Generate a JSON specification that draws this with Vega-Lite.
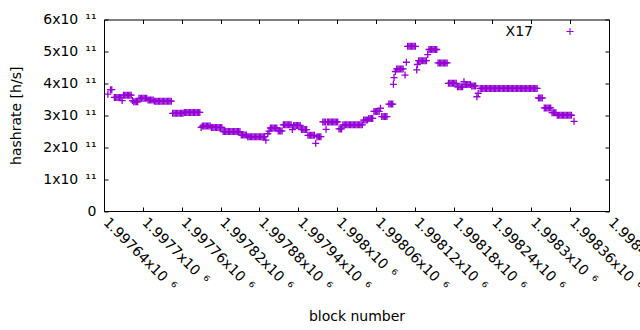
{
  "$schema": "https://vega.github.io/schema/vega-lite/v6.json",
  "autosize": {"type": "none"},
  "width": 505,
  "height": 191.5,
  "padding": {"left": 104, "top": 19.5, "right": 31, "bottom": 119},
  "background": "white",
  "config": {
    "font": "DejaVu Sans",
    "view": {"stroke": "#000000", "strokeWidth": 1},
    "axis": {"labelFontSize": 14, "titleFontSize": 14, "labelColor": "#000", "titleColor": "#000", "titleFontWeight": "normal", "grid": false, "domain": false, "tickColor": "#000", "tickWidth": 1},
    "legend": {"labelFontSize": 14, "labelColor": "#000"}
  },
  "data": {"values": [
    {"block":1997646,"hashrate":3.66e11},{"block":1997650,"hashrate":3.80e11},{"block":1997652,"hashrate":3.80e11},
    {"block":1997656,"hashrate":3.56e11},{"block":1997658,"hashrate":3.56e11},{"block":1997660,"hashrate":3.56e11},{"block":1997662,"hashrate":3.56e11},{"block":1997664,"hashrate":3.56e11},{"block":1997666,"hashrate":3.56e11},{"block":1997668,"hashrate":3.46e11},
    {"block":1997670,"hashrate":3.63e11},{"block":1997672,"hashrate":3.63e11},{"block":1997674,"hashrate":3.63e11},{"block":1997676,"hashrate":3.63e11},{"block":1997678,"hashrate":3.63e11},{"block":1997680,"hashrate":3.63e11},{"block":1997682,"hashrate":3.63e11},
    {"block":1997684,"hashrate":3.46e11},{"block":1997686,"hashrate":3.42e11},{"block":1997688,"hashrate":3.42e11},{"block":1997690,"hashrate":3.42e11},{"block":1997692,"hashrate":3.42e11},
    {"block":1997694,"hashrate":3.53e11},{"block":1997696,"hashrate":3.53e11},{"block":1997698,"hashrate":3.53e11},{"block":1997700,"hashrate":3.53e11},{"block":1997702,"hashrate":3.53e11},{"block":1997704,"hashrate":3.53e11},{"block":1997706,"hashrate":3.53e11},
    {"block":1997708,"hashrate":3.48e11},{"block":1997710,"hashrate":3.48e11},{"block":1997712,"hashrate":3.48e11},{"block":1997714,"hashrate":3.48e11},{"block":1997716,"hashrate":3.48e11},
    {"block":1997718,"hashrate":3.44e11},{"block":1997720,"hashrate":3.44e11},{"block":1997722,"hashrate":3.44e11},{"block":1997724,"hashrate":3.44e11},{"block":1997726,"hashrate":3.44e11},{"block":1997728,"hashrate":3.44e11},{"block":1997730,"hashrate":3.44e11},{"block":1997732,"hashrate":3.44e11},{"block":1997734,"hashrate":3.44e11},{"block":1997736,"hashrate":3.44e11},{"block":1997738,"hashrate":3.44e11},{"block":1997740,"hashrate":3.44e11},{"block":1997742,"hashrate":3.44e11},{"block":1997744,"hashrate":3.44e11},
    {"block":1997746,"hashrate":3.06e11},{"block":1997748,"hashrate":3.06e11},{"block":1997750,"hashrate":3.06e11},{"block":1997752,"hashrate":3.06e11},{"block":1997754,"hashrate":3.06e11},{"block":1997756,"hashrate":3.06e11},{"block":1997758,"hashrate":3.06e11},{"block":1997760,"hashrate":3.06e11},{"block":1997762,"hashrate":3.06e11},
    {"block":1997764,"hashrate":3.09e11},{"block":1997766,"hashrate":3.09e11},{"block":1997768,"hashrate":3.09e11},{"block":1997770,"hashrate":3.09e11},{"block":1997772,"hashrate":3.09e11},{"block":1997774,"hashrate":3.09e11},{"block":1997776,"hashrate":3.09e11},{"block":1997778,"hashrate":3.09e11},{"block":1997780,"hashrate":3.09e11},{"block":1997782,"hashrate":3.09e11},{"block":1997784,"hashrate":3.09e11},{"block":1997786,"hashrate":3.09e11},{"block":1997788,"hashrate":3.09e11},
    {"block":1997790,"hashrate":2.62e11},{"block":1997792,"hashrate":2.66e11},{"block":1997794,"hashrate":2.66e11},{"block":1997796,"hashrate":2.66e11},{"block":1997798,"hashrate":2.66e11},{"block":1997800,"hashrate":2.66e11},{"block":1997802,"hashrate":2.66e11},{"block":1997804,"hashrate":2.66e11},
    {"block":1997806,"hashrate":2.62e11},{"block":1997808,"hashrate":2.62e11},{"block":1997810,"hashrate":2.62e11},{"block":1997812,"hashrate":2.62e11},{"block":1997814,"hashrate":2.62e11},{"block":1997816,"hashrate":2.62e11},{"block":1997818,"hashrate":2.62e11},{"block":1997820,"hashrate":2.62e11},{"block":1997822,"hashrate":2.62e11},
    {"block":1997824,"hashrate":2.49e11},{"block":1997826,"hashrate":2.49e11},{"block":1997828,"hashrate":2.49e11},{"block":1997830,"hashrate":2.49e11},{"block":1997832,"hashrate":2.49e11},{"block":1997834,"hashrate":2.49e11},{"block":1997836,"hashrate":2.49e11},{"block":1997838,"hashrate":2.49e11},{"block":1997840,"hashrate":2.49e11},{"block":1997842,"hashrate":2.49e11},{"block":1997844,"hashrate":2.49e11},{"block":1997846,"hashrate":2.49e11},{"block":1997848,"hashrate":2.49e11},{"block":1997850,"hashrate":2.49e11},
    {"block":1997852,"hashrate":2.38e11},{"block":1997854,"hashrate":2.38e11},{"block":1997856,"hashrate":2.38e11},{"block":1997858,"hashrate":2.38e11},{"block":1997860,"hashrate":2.38e11},
    {"block":1997862,"hashrate":2.33e11},{"block":1997864,"hashrate":2.33e11},{"block":1997866,"hashrate":2.33e11},{"block":1997868,"hashrate":2.33e11},{"block":1997870,"hashrate":2.33e11},{"block":1997872,"hashrate":2.33e11},{"block":1997874,"hashrate":2.33e11},{"block":1997876,"hashrate":2.33e11},{"block":1997878,"hashrate":2.33e11},{"block":1997880,"hashrate":2.33e11},{"block":1997882,"hashrate":2.33e11},{"block":1997884,"hashrate":2.33e11},{"block":1997886,"hashrate":2.33e11},{"block":1997888,"hashrate":2.33e11},
    {"block":1997890,"hashrate":2.22e11},{"block":1997893,"hashrate":2.42e11},{"block":1997895,"hashrate":2.50e11},
    {"block":1997897,"hashrate":2.60e11},{"block":1997899,"hashrate":2.60e11},{"block":1997901,"hashrate":2.60e11},{"block":1997903,"hashrate":2.60e11},{"block":1997905,"hashrate":2.60e11},{"block":1997907,"hashrate":2.60e11},
    {"block":1997909,"hashrate":2.51e11},{"block":1997911,"hashrate":2.51e11},{"block":1997913,"hashrate":2.51e11},{"block":1997915,"hashrate":2.51e11},
    {"block":1997917,"hashrate":2.70e11},{"block":1997919,"hashrate":2.70e11},{"block":1997921,"hashrate":2.70e11},{"block":1997923,"hashrate":2.70e11},{"block":1997925,"hashrate":2.70e11},{"block":1997927,"hashrate":2.70e11},{"block":1997929,"hashrate":2.70e11},
    {"block":1997931,"hashrate":2.55e11},
    {"block":1997933,"hashrate":2.68e11},{"block":1997935,"hashrate":2.68e11},{"block":1997937,"hashrate":2.68e11},{"block":1997939,"hashrate":2.68e11},{"block":1997941,"hashrate":2.68e11},{"block":1997943,"hashrate":2.68e11},
    {"block":1997945,"hashrate":2.55e11},{"block":1997947,"hashrate":2.55e11},{"block":1997949,"hashrate":2.55e11},{"block":1997951,"hashrate":2.55e11},{"block":1997953,"hashrate":2.55e11},
    {"block":1997955,"hashrate":2.37e11},{"block":1997957,"hashrate":2.37e11},{"block":1997959,"hashrate":2.37e11},{"block":1997961,"hashrate":2.37e11},{"block":1997963,"hashrate":2.37e11},{"block":1997965,"hashrate":2.37e11},
    {"block":1997967,"hashrate":2.12e11},
    {"block":1997969,"hashrate":2.33e11},{"block":1997971,"hashrate":2.33e11},{"block":1997973,"hashrate":2.33e11},{"block":1997975,"hashrate":2.33e11},
    {"block":1997978,"hashrate":2.79e11},{"block":1997980,"hashrate":2.79e11},{"block":1997982,"hashrate":2.79e11},{"block":1997983,"hashrate":2.56e11},{"block":1997985,"hashrate":2.79e11},{"block":1997987,"hashrate":2.79e11},{"block":1997989,"hashrate":2.79e11},{"block":1997991,"hashrate":2.79e11},{"block":1997993,"hashrate":2.79e11},{"block":1997995,"hashrate":2.79e11},{"block":1997997,"hashrate":2.79e11},{"block":1997999,"hashrate":2.79e11},{"block":1998001,"hashrate":2.79e11},
    {"block":1998003,"hashrate":2.57e11},{"block":1998005,"hashrate":2.57e11},{"block":1998007,"hashrate":2.57e11},
    {"block":1998009,"hashrate":2.70e11},{"block":1998011,"hashrate":2.70e11},{"block":1998013,"hashrate":2.70e11},{"block":1998015,"hashrate":2.70e11},{"block":1998017,"hashrate":2.70e11},{"block":1998019,"hashrate":2.70e11},{"block":1998021,"hashrate":2.70e11},{"block":1998023,"hashrate":2.70e11},{"block":1998025,"hashrate":2.70e11},{"block":1998027,"hashrate":2.70e11},{"block":1998029,"hashrate":2.70e11},{"block":1998031,"hashrate":2.70e11},{"block":1998033,"hashrate":2.70e11},{"block":1998035,"hashrate":2.70e11},{"block":1998037,"hashrate":2.70e11},{"block":1998039,"hashrate":2.70e11},
    {"block":1998041,"hashrate":2.85e11},{"block":1998043,"hashrate":2.85e11},{"block":1998045,"hashrate":2.85e11},{"block":1998047,"hashrate":2.85e11},
    {"block":1998049,"hashrate":2.90e11},{"block":1998051,"hashrate":2.90e11},{"block":1998053,"hashrate":2.90e11},{"block":1998055,"hashrate":2.90e11},
    {"block":1998057,"hashrate":3.12e11},{"block":1998059,"hashrate":3.12e11},{"block":1998061,"hashrate":3.12e11},{"block":1998063,"hashrate":3.12e11},{"block":1998065,"hashrate":3.12e11},{"block":1998067,"hashrate":3.22e11},
    {"block":1998069,"hashrate":2.96e11},{"block":1998071,"hashrate":2.96e11},{"block":1998073,"hashrate":2.96e11},{"block":1998075,"hashrate":2.96e11},{"block":1998077,"hashrate":2.96e11},
    {"block":1998080,"hashrate":3.35e11},{"block":1998082,"hashrate":3.35e11},{"block":1998084,"hashrate":3.35e11},{"block":1998086,"hashrate":3.35e11},
    {"block":1998087,"hashrate":3.97e11},{"block":1998088,"hashrate":4.18e11},{"block":1998090,"hashrate":4.37e11},
    {"block":1998092,"hashrate":4.45e11},{"block":1998094,"hashrate":4.45e11},{"block":1998096,"hashrate":4.45e11},{"block":1998098,"hashrate":4.45e11},{"block":1998100,"hashrate":4.45e11},{"block":1998102,"hashrate":4.45e11},
    {"block":1998105,"hashrate":4.26e11},{"block":1998107,"hashrate":4.66e11},
    {"block":1998109,"hashrate":5.16e11},{"block":1998111,"hashrate":5.16e11},{"block":1998113,"hashrate":5.16e11},{"block":1998115,"hashrate":5.16e11},{"block":1998117,"hashrate":5.16e11},{"block":1998119,"hashrate":5.16e11},{"block":1998121,"hashrate":5.16e11},
    {"block":1998123,"hashrate":4.42e11},{"block":1998124,"hashrate":4.59e11},
    {"block":1998126,"hashrate":4.71e11},{"block":1998128,"hashrate":4.71e11},{"block":1998130,"hashrate":4.71e11},{"block":1998132,"hashrate":4.71e11},{"block":1998134,"hashrate":4.71e11},{"block":1998136,"hashrate":4.71e11},{"block":1998138,"hashrate":4.71e11},
    {"block":1998140,"hashrate":4.90e11},
    {"block":1998142,"hashrate":5.06e11},{"block":1998144,"hashrate":5.06e11},{"block":1998146,"hashrate":5.06e11},{"block":1998148,"hashrate":5.06e11},{"block":1998150,"hashrate":5.06e11},{"block":1998152,"hashrate":5.06e11},{"block":1998154,"hashrate":5.06e11},
    {"block":1998156,"hashrate":4.64e11},{"block":1998158,"hashrate":4.64e11},{"block":1998160,"hashrate":4.64e11},{"block":1998162,"hashrate":4.64e11},{"block":1998164,"hashrate":4.64e11},{"block":1998166,"hashrate":4.64e11},{"block":1998168,"hashrate":4.64e11},{"block":1998170,"hashrate":4.64e11},
    {"block":1998172,"hashrate":4.00e11},{"block":1998174,"hashrate":4.00e11},{"block":1998176,"hashrate":4.00e11},{"block":1998178,"hashrate":4.00e11},{"block":1998180,"hashrate":4.00e11},{"block":1998182,"hashrate":4.00e11},{"block":1998184,"hashrate":4.00e11},
    {"block":1998186,"hashrate":3.89e11},{"block":1998188,"hashrate":3.89e11},{"block":1998190,"hashrate":3.89e11},{"block":1998192,"hashrate":3.89e11},{"block":1998194,"hashrate":3.89e11},
    {"block":1998196,"hashrate":4.05e11},
    {"block":1998198,"hashrate":3.96e11},{"block":1998200,"hashrate":3.96e11},{"block":1998202,"hashrate":3.96e11},{"block":1998204,"hashrate":3.96e11},{"block":1998206,"hashrate":3.96e11},
    {"block":1998208,"hashrate":3.92e11},{"block":1998210,"hashrate":3.92e11},{"block":1998212,"hashrate":3.92e11},{"block":1998214,"hashrate":3.92e11},
    {"block":1998216,"hashrate":3.58e11},{"block":1998218,"hashrate":3.69e11},
    {"block":1998221,"hashrate":3.84e11},{"block":1998223,"hashrate":3.84e11},{"block":1998225,"hashrate":3.84e11},{"block":1998227,"hashrate":3.84e11},{"block":1998229,"hashrate":3.84e11},{"block":1998231,"hashrate":3.84e11},{"block":1998233,"hashrate":3.84e11},{"block":1998235,"hashrate":3.84e11},{"block":1998237,"hashrate":3.84e11},{"block":1998239,"hashrate":3.84e11},
    {"block":1998241,"hashrate":3.84e11},{"block":1998243,"hashrate":3.84e11},{"block":1998245,"hashrate":3.84e11},{"block":1998247,"hashrate":3.84e11},{"block":1998249,"hashrate":3.84e11},{"block":1998251,"hashrate":3.84e11},{"block":1998253,"hashrate":3.84e11},{"block":1998255,"hashrate":3.84e11},{"block":1998257,"hashrate":3.84e11},{"block":1998259,"hashrate":3.84e11},
    {"block":1998261,"hashrate":3.84e11},{"block":1998263,"hashrate":3.84e11},{"block":1998265,"hashrate":3.84e11},{"block":1998267,"hashrate":3.84e11},{"block":1998269,"hashrate":3.84e11},{"block":1998271,"hashrate":3.84e11},{"block":1998273,"hashrate":3.84e11},{"block":1998275,"hashrate":3.84e11},{"block":1998277,"hashrate":3.84e11},{"block":1998279,"hashrate":3.84e11},
    {"block":1998281,"hashrate":3.84e11},{"block":1998283,"hashrate":3.84e11},{"block":1998285,"hashrate":3.84e11},{"block":1998287,"hashrate":3.84e11},{"block":1998289,"hashrate":3.84e11},{"block":1998291,"hashrate":3.84e11},{"block":1998293,"hashrate":3.84e11},{"block":1998295,"hashrate":3.84e11},{"block":1998297,"hashrate":3.84e11},{"block":1998299,"hashrate":3.84e11},
    {"block":1998301,"hashrate":3.84e11},{"block":1998303,"hashrate":3.84e11},{"block":1998305,"hashrate":3.84e11},{"block":1998307,"hashrate":3.84e11},{"block":1998309,"hashrate":3.84e11},
    {"block":1998311,"hashrate":3.54e11},{"block":1998313,"hashrate":3.54e11},{"block":1998315,"hashrate":3.54e11},{"block":1998317,"hashrate":3.54e11},
    {"block":1998320,"hashrate":3.23e11},{"block":1998322,"hashrate":3.23e11},{"block":1998324,"hashrate":3.23e11},{"block":1998326,"hashrate":3.23e11},{"block":1998328,"hashrate":3.23e11},{"block":1998330,"hashrate":3.23e11},
    {"block":1998332,"hashrate":3.08e11},{"block":1998334,"hashrate":3.08e11},{"block":1998336,"hashrate":3.08e11},{"block":1998338,"hashrate":3.08e11},
    {"block":1998340,"hashrate":3.00e11},{"block":1998342,"hashrate":3.00e11},{"block":1998344,"hashrate":3.00e11},{"block":1998346,"hashrate":3.00e11},{"block":1998348,"hashrate":3.00e11},{"block":1998350,"hashrate":3.00e11},{"block":1998352,"hashrate":3.00e11},{"block":1998354,"hashrate":3.00e11},{"block":1998356,"hashrate":3.00e11},{"block":1998358,"hashrate":3.00e11},{"block":1998360,"hashrate":3.00e11},{"block":1998362,"hashrate":3.00e11},
    {"block":1998366,"hashrate":2.81e11}
  ]},
  "layer": [
    {
      "mark": {"type": "point", "shape": "M-1,0H1M0,-1V1", "size": 49, "filled": false, "strokeWidth": 1.3, "opacity": 1},
      "encoding": {
        "x": {"field": "block", "type": "quantitative", "scale": {"domain": [1997640, 1998420], "nice": false, "zero": false},
              "axis": {"orient": "bottom", "title": "block number", "values": [1997640,1997700,1997760,1997820,1997880,1997940,1998000,1998060,1998120,1998180,1998240,1998300,1998360,1998420],
                       "labelExpr": "format(datum.value/1e6, '.6~g') + 'x10\u2002⁶'", "labelAngle": 45, "labelAlign": "left", "labelBaseline": "top", "labelPadding": 8, "labelOffset": 6, "tickSize": -4, "labelOverlap": false, "labelBound": false, "labelFlush": false, "titleY": 109, "titleBaseline": "alphabetic"}},
        "y": {"field": "hashrate", "type": "quantitative", "scale": {"domain": [0, 6e11], "nice": false},
              "axis": {"orient": "left", "title": "hashrate [h/s]", "values": [0,1e11,2e11,3e11,4e11,5e11,6e11],
                       "labelExpr": "datum.value == 0 ? '0' : format(datum.value/1e11, 'd') + 'x10\u2002¹¹'", "labelPadding": 12, "tickSize": -4, "labelOverlap": false, "labelBound": false, "labelFlush": false, "titleX": -84, "titleBaseline": "alphabetic"}},
        "color": {"datum": "X17", "scale": {"range": ["#9400D3"]},
                  "legend": {"title": null, "orient": "none", "legendX": 459, "legendY": 5, "padding": 0, "symbolType": "M-1,0H1M0,-1V1", "symbolSize": 49, "symbolStrokeWidth": 1, "labelAlign": "right", "labelOffset": -44, "labelFontSize": 14}}
      }
    },
    {
      "mark": {"type": "point", "opacity": 0},
      "encoding": {
        "x": {"field": "block", "type": "quantitative", "axis": {"orient": "top", "title": null, "labels": false, "tickSize": -4, "values": [1997640,1997700,1997760,1997820,1997880,1997940,1998000,1998060,1998120,1998180,1998240,1998300,1998360,1998420]}},
        "y": {"field": "hashrate", "type": "quantitative", "axis": {"orient": "right", "title": null, "labels": false, "tickSize": -4, "values": [0,1e11,2e11,3e11,4e11,5e11,6e11]}}
      }
    }
  ],
  "resolve": {"axis": {"x": "independent", "y": "independent"}}
}
